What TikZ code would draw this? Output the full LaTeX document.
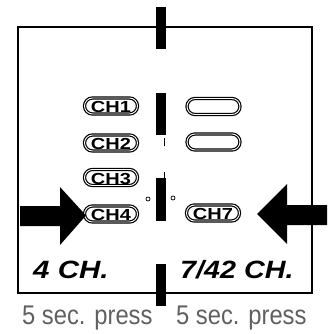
\documentclass[tikz,border=0pt]{standalone}
\usepackage{fontspec}
\setmainfont{Liberation Sans}
\newfontfamily\graysans[FakeStretch=0.88]{Liberation Sans}
\usetikzlibrary{shapes.misc}
\definecolor{graytext}{HTML}{606060}
\tikzset{
  btn/.style={rounded rectangle, draw=black, line width=1.2pt, double=white,
    double distance=0.9pt, minimum width=53pt, minimum height=16pt, inner sep=0pt,
    text height=13pt, text depth=0pt,
    font=\fontsize{16}{16}\selectfont\bfseries},
  bar/.style={fill=black, draw=none},
  bigarrow/.style={fill=black, draw=none},
  chlabel/.style={anchor=base west, inner sep=0pt, font=\fontsize{25}{27}\selectfont\bfseries\itshape},
  presslabel/.style={anchor=base west, inner sep=0pt, text=graytext, font=\graysans\fontsize{27}{29}\selectfont},
  tick/.style={line width=0.8pt},
  hole/.style={draw=black, line width=0.7pt, fill=white}
}
\newcommand{\btxt}[1]{\scalebox{1.25}[1]{#1}}
\begin{document}
\begin{tikzpicture}[x=1pt,y=-1pt]
\useasboundingbox (0,0) rectangle (327,334);
% outer box
\draw[line width=1.3pt] (18,27) rectangle (312,293);
% bars
\fill[bar] (156,7) rectangle (166,49);
\fill[bar] (156,93) rectangle (166,135);
\fill[bar] (156,178) rectangle (166,221);
\fill[bar] (156,264) rectangle (166,306);
\draw[tick] (164.5,138) -- (164.5,146);
\draw[tick] (164.5,172) -- (164.5,178);
\draw[hole] (148,199) circle (2);
\draw[hole] (173,198) circle (2);
% buttons
\node[btn] (ch1) at (111,106) {\btxt{CH1}};
\node[btn] (ch2) at (111,143) {\btxt{CH2}};
\node[btn] (ch3) at (111,177.5) {\btxt{CH3}};
\node[btn] (ch4) at (111,214) {\btxt{CH4}};
\node[btn] (r1) at (213.5,106.5) {};
\node[btn] (r2) at (213.5,142) {};
\node[btn] (ch7) at (213,213) {\btxt{CH7}};
% arrows
\fill[bigarrow] (20,206) -- (60,206) -- (60,187) -- (86,215.5) -- (60,245) -- (60,226) -- (20,226) -- cycle;
\fill[bigarrow] (327,205) -- (287,205) -- (287,184) -- (257,214) -- (287,244) -- (287,225) -- (327,225) -- cycle;
% labels
\node[chlabel] (l4) at (33,278) {\scalebox{1.18}[1]{4 CH.}};
\node[chlabel] (l7) at (180,278) {\scalebox{1.15}[1]{7/42 CH.}};
\node[presslabel] (p1) at (22,324) {5 sec. press};
\node[presslabel] (p2) at (176,324) {5 sec. press};
\end{tikzpicture}
\end{document}
